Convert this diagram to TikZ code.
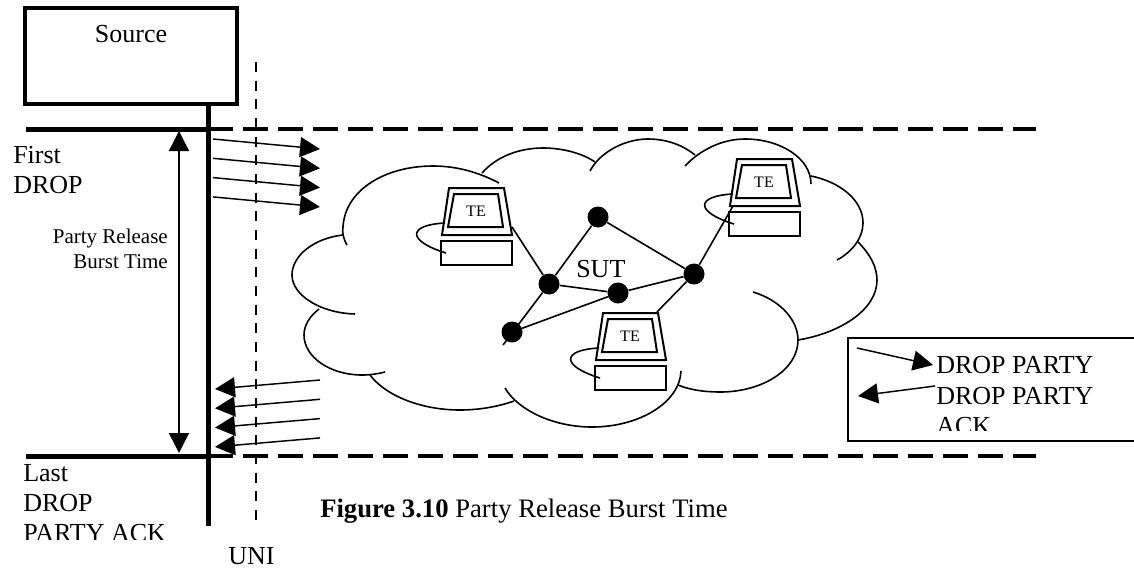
\documentclass[tikz,border=0pt]{standalone}
\usepackage{fontspec}
\setmainfont{Liberation Serif}
\usetikzlibrary{arrows.meta}
\tikzset{
  bigtext/.style={inner sep=0pt,anchor=base west,align=left,font=\fontsize{19.5}{22.5}\selectfont},
  smalltext/.style={inner sep=0pt,anchor=base east,align=right,font=\fontsize{15.75}{18.75}\selectfont},
  cloudline/.style={line width=1.2pt},
  link/.style={line width=1.2pt},
  router/.style={circle,fill=black,minimum size=15.75pt,inner sep=0pt},
  msg/.style={line width=1.1pt,-{Triangle[length=15pt,width=15pt]}},
  computer/.pic={
    \draw[line width=1.5pt] (8,-53) -- (63,-53) -- (71,-6) -- (1,-6) -- cycle;
    \draw[line width=1.5pt] (13,-47) -- (57,-47) -- (62,-14) -- (7,-14) -- cycle;
    \draw[line width=1.5pt] (0,0) rectangle (71,24);
    \draw[link] (4,-18) .. controls (-34,-16) and (-34,0) .. (5,12);
    \node[inner sep=0pt,font=\fontsize{12}{14}\selectfont] (-label) at (35,-30) {TE};
  }
}
\begin{document}
\begin{tikzpicture}[x=0.75pt,y=-0.75pt]
	\useasboundingbox (0,0) rectangle (1134,568);
	% source and time lines
	\node[draw,line width=2.5pt,minimum width=159pt,inner ysep=0pt,text height=26pt,text depth=46pt,
	  font=\fontsize{19.5}{22.5}\selectfont] (source) at (131,56) {Source};
	\coordinate (busend) at (208,526);
	\coordinate (firstl) at (26,129);
	\coordinate (firstm) at (208,129);
	\coordinate (firstr) at (1036,129);
	\coordinate (lastl) at (26,456);
	\coordinate (lastm) at (233,456);
	\coordinate (lastr) at (1036,456);
	\coordinate (unitop) at (256,62);
	\coordinate (unibot) at (256,520);
	\draw[line width=3.75pt] (source.south -| busend) -- (busend);
	\draw[line width=3.75pt] (firstl) -- (firstm);
	\draw[line width=3.75pt] (lastl) -- (firstm |- lastl);
	\draw[line width=2.5pt] (firstm |- lastl) -- (lastm);
	\draw[line width=2.5pt,dash pattern=on 18.75pt off 7.5pt] (firstm) -- (firstr);
	\draw[line width=2.5pt,dash pattern=on 18.75pt off 7.5pt] (lastm) ++(10,0) -- (lastr);
	\draw[line width=1.7pt,dash pattern=on 7.5pt off 6.5pt] (unitop) -- (unibot);
%
	% burst time
	\coordinate (bursttop) at (179,131);
	\coordinate (burstbot) at (179,453);
	\draw[line width=1.1pt,{Triangle[length=15pt,width=15pt]}-{Triangle[length=15pt,width=15pt]}] (bursttop) -- (burstbot);
	\node[smalltext] (burst) at (168,268) {Party Release\\Burst Time};
	\node[bigtext] (first) at (13,193) {First\\DROP};
	\begin{scope}
	  \clip (0,460) rectangle (200,539);
	  \node[bigtext] (last) at (23,541) {Last\\DROP\\PARTY ACK};
	\end{scope}
	\node[bigtext] (uni) at (228,564) {UNI};
	\node[bigtext,font=\fontsize{20}{22.5}\selectfont] (caption) at (320,517) {\textbf{Figure 3.10} Party Release Burst Time};
%
	% messages
	\foreach \i in {0,1,2,3} {
	  \coordinate (outs\i) at (213,139+19.3*\i);
	  \coordinate (oute\i) at (320,149+19.3*\i);
	  \coordinate (backs\i) at (320,380+19.3*\i);
	  \coordinate (backe\i) at (215,389+19.3*\i);
	  \draw[msg] (outs\i) -- (oute\i);
	  \draw[msg] (backs\i) -- (backe\i);
	}
%
	% cloud
	\draw[cloudline] (347,245) .. controls (343,238) and (342,232) .. (343,227) .. controls (345,190) and (385,166) .. (433,166) .. controls (458,166) and (480,173) .. (499,183);
	\draw[cloudline] (482,173) .. controls (497,156) and (520,148) .. (543,148) .. controls (562,148) and (582,153) .. (595,162);
	\draw[cloudline] (590,171) .. controls (600,152) and (625,139) .. (648,139) .. controls (668,139) and (684,146) .. (695,155);
	\draw[cloudline] (685,166) .. controls (700,150) and (722,139) .. (745,139) .. controls (780,139) and (811,158) .. (811,184);
	\draw[cloudline] (811,176) .. controls (840,182) and (863,200) .. (863,223) .. controls (863,238) and (852,252) .. (837,260);
	\draw[cloudline] (858,242) .. controls (870,254) and (877,267) .. (877,280) .. controls (877,310) and (840,333) .. (798,340);
	\draw[cloudline] (753,292) .. controls (780,300) and (798,320) .. (798,340) .. controls (798,370) and (762,392) .. (720,392) .. controls (705,392) and (690,390) .. (678,385);
	\draw[cloudline] (681,371) .. controls (680,402) and (640,427) .. (592,427) .. controls (553,427) and (518,410) .. (505,388);
	\draw[cloudline] (514,401) .. controls (497,407) and (478,410) .. (460,410) .. controls (420,410) and (385,395) .. (370,375);
	\draw[cloudline] (385,372) .. controls (377,374) and (370,375) .. (362,375) .. controls (330,375) and (304,357) .. (304,335) .. controls (304,325) and (310,316) .. (319,309);
	\draw[cloudline] (355,314) .. controls (320,313) and (292,295) .. (292,275) .. controls (292,255) and (315,238) .. (343,235);
%
	% network
	\pic (teleft) at (441,241) {computer};
	\pic (teright) at (729,212) {computer};
	\pic (tebottom) at (595,366) {computer};
	\node[router] (r1) at (549,284) {};
	\node[router] (r2) at (598,217) {};
	\node[router] (r3) at (694,274) {};
	\node[router] (r4) at (618,293) {};
	\node[router] (r5) at (512,332) {};
	\coordinate (portleft) at (512,227);
	\coordinate (portright) at (733,206);
	\coordinate (portbottom) at (657,312);
	\coordinate (tail) at (503,345);
	\draw[link] (r1) -- (r2);
	\draw[link] (r2) -- (r3);
	\draw[link] (r1) -- (r4);
	\draw[link] (r4) -- (r3);
	\draw[link] (r5) -- (r4);
	\draw[link] (r1) -- (tail);
	\draw[link] (r1) -- (portleft);
	\draw[link] (r3) -- (portright);
	\draw[link] (r3) -- (portbottom);
	\node[bigtext] (sut) at (576,277) {SUT};
%
	% legend
	\coordinate (legtl) at (848,338);
	\coordinate (legbr) at (1140,441);
	\draw[line width=1.5pt] (legtl) rectangle (legbr);
	\coordinate (legs1) at (857,348);
	\coordinate (lege1) at (933,365);
	\coordinate (legs2) at (935,386);
	\coordinate (lege2) at (858,396);
	\draw[msg] (legs1) -- (lege1);
	\draw[msg] (legs2) -- (lege2);
	\node[bigtext] (legdrop) at (936,373) {DROP PARTY};
	\begin{scope}
	  \clip (930,380) rectangle (1130,430);
	  \node[bigtext] (legack) at (936,434) {DROP PARTY\\ACK};
	\end{scope}
\end{tikzpicture}
\end{document}
